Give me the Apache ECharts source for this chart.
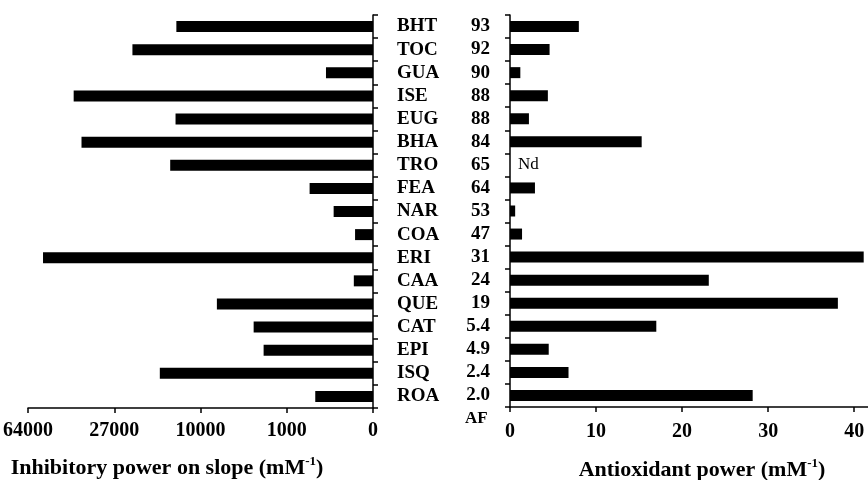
<!DOCTYPE html>
<html>
<head>
<meta charset="utf-8">
<script src="https://cdn.jsdelivr.net/npm/echarts@6/dist/echarts.min.js"></script>
<style>
  html, body { margin: 0; padding: 0; background: #fff; }
  #chart { width: 868px; height: 480px; }
</style>
</head>
<body>
<div id="chart"></div>
<script>
// compounds, top to bottom
const compounds = ['BHT', 'TOC', 'GUA', 'ISE', 'EUG', 'BHA', 'TRO', 'FEA', 'NAR', 'COA', 'ERI', 'CAA', 'QUE', 'CAT', 'EPI', 'ISQ', 'ROA'];
const afValues = ['93', '92', '90', '88', '88', '84', '65', '64', '53', '47', '31', '24', '19', '5.4', '4.9', '2.4', '2.0'];
// inhibitory power on slope (mM-1), drawn on a cube-root axis
const inhibitory = [11850, 21700, 162, 41800, 12000, 38600, 13000, 397, 95, 9, 56000, 11, 5930, 2650, 2040, 15100, 300];
// antioxidant power (mM-1), null = not determined
const antioxidant = [8.0, 4.6, 1.2, 4.4, 2.2, 15.3, null, 2.9, 0.6, 1.4, 41.1, 23.1, 38.1, 17.0, 4.5, 6.8, 28.2];
const leftTickLabels = ['0', '1000', '10000', '27000', '64000'];
const leftTickPos = [0, 10, 20, 30, 40];
const rightTicks = [0, 10, 20, 30, 40];

const font = 'Liberation Serif';
const txt = { fontFamily: font, fontWeight: 'bold', fontSize: 19, color: '#000' };
const tickTxt = { fontFamily: font, fontWeight: 'bold', fontSize: 20, color: '#000' };
const axLine = { show: true, lineStyle: { color: '#000', width: 1.5 } };

const rightData = antioxidant.map(function (v) {
    if (v === null) {
        return { value: 0, label: { show: true, formatter: 'Nd', position: 'right', distance: 8,
            fontFamily: font, fontSize: 17, color: '#000' } };
    }
    return v;
});

const titleRich = {
    a: { fontFamily: font, fontWeight: 'bold', fontSize: 22, fill: '#000', lineHeight: 26 },
    s: { fontFamily: font, fontWeight: 'bold', fontSize: 13, fill: '#000', verticalAlign: 'top', lineHeight: 26, padding: [0, 0, 10, 0] }
};

const chart = echarts.init(document.getElementById('chart'));
chart.setOption({
    animation: false,
    backgroundColor: '#fff',
    grid: [
        { left: 28, right: 495, top: 15, bottom: 72 },
        { left: 510, right: 0, top: 15, bottom: 73 }
    ],
    xAxis: [
        {
            gridIndex: 0, type: 'value', inverse: true, min: 0, max: 40,
            axisLine: axLine,
            axisTick: { show: true, length: 5, customValues: leftTickPos, lineStyle: { color: '#000', width: 1.5 } },
            axisLabel: Object.assign({ margin: 13, customValues: leftTickPos,
                formatter: function (v) { return leftTickLabels[leftTickPos.indexOf(v)]; } }, tickTxt),
            splitLine: { show: false }
        },
        {
            gridIndex: 1, type: 'value', min: 0, max: 41.6,
            axisLine: axLine,
            axisTick: { show: true, length: 5, customValues: rightTicks, lineStyle: { color: '#000', width: 1.5 } },
            axisLabel: Object.assign({ margin: 15, customValues: rightTicks }, tickTxt),
            splitLine: { show: false }
        }
    ],
    yAxis: [
        {
            gridIndex: 0, type: 'category', data: compounds, inverse: true, position: 'right',
            axisLine: axLine,
            axisTick: { show: true, length: 5, lineStyle: { color: '#000', width: 1.5 } },
            axisLabel: Object.assign({ margin: 24, align: 'left', interval: 0 }, txt)
        },
        {
            gridIndex: 1, type: 'category', data: afValues, inverse: true, position: 'left',
            axisLine: axLine,
            axisTick: { show: true, length: 5, lineStyle: { color: '#000', width: 1.5 } },
            axisLabel: Object.assign({ margin: 20, align: 'right', interval: 0 }, txt)
        }
    ],
    series: [
        {
            type: 'bar', xAxisIndex: 0, yAxisIndex: 0, barWidth: 11,
            itemStyle: { color: '#000' },
            data: inhibitory.map(Math.cbrt)
        },
        {
            type: 'bar', xAxisIndex: 1, yAxisIndex: 1, barWidth: 11,
            itemStyle: { color: '#000' },
            data: rightData
        }
    ],
    graphic: [
        { type: 'text', left: 465, top: 410, style: { text: 'AF', font: 'bold 17px "Liberation Serif"', fill: '#000' } },
        {
            type: 'text', x: 167, y: 468,
            style: { text: '{a|Inhibitory power on slope (mM}{s|-1}{a|)}', align: 'center', verticalAlign: 'middle', rich: titleRich }
        },
        {
            type: 'text', x: 702, y: 470,
            style: { text: '{a|Antioxidant power (mM}{s|-1}{a|)}', align: 'center', verticalAlign: 'middle', rich: titleRich }
        }
    ]
});
</script>
</body>
</html>
